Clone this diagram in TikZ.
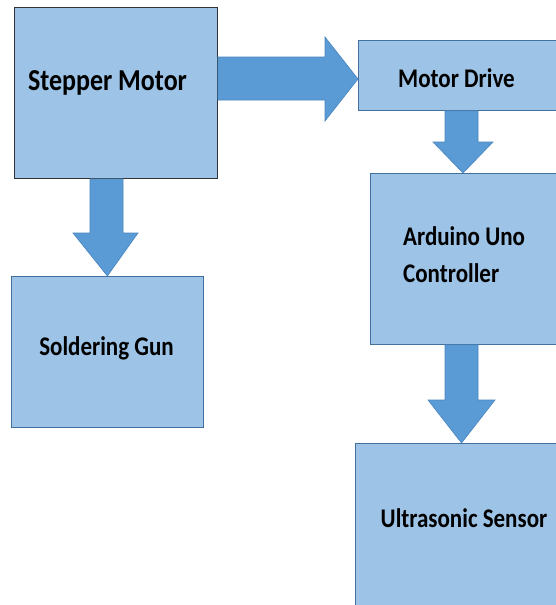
\documentclass[tikz,border=0pt]{standalone}
\usepackage{fontspec}
\setmainfont{Carlito}
\usepackage{graphicx}
\newcommand{\tx}[1]{\scalebox{1}[1.17]{#1}}
\definecolor{boxfill}{HTML}{9DC3E6}
\definecolor{boxline}{HTML}{41719C}
\definecolor{arrfill}{HTML}{5B9BD5}
\definecolor{arrline}{HTML}{4A85C0}
\tikzset{
  blk/.style={rectangle, fill=boxfill, draw=boxline, line width=0.8pt, inner sep=0pt},
  lbl/.style={inner sep=0pt, font=\bfseries\fontsize{23}{37}\selectfont, text=black},
  barrow/.style={fill=arrfill, draw=arrline, line width=0.6pt, line join=miter}
}
\begin{document}
\begin{tikzpicture}[x=1pt,y=1pt]
\clip (0,0) rectangle (556,-605);
\fill[white] (0,0) rectangle (556,-605);
% boxes
\node[blk, draw=black!80, anchor=north west, minimum width=203, minimum height=171] (sm) at (14,-7) {};
\node[blk, anchor=north west, minimum width=212, minimum height=70] (md) at (358,-40) {};
\node[blk, anchor=north west, minimum width=200, minimum height=171] (ard) at (370,-173) {};
\node[blk, anchor=north west, minimum width=192, minimum height=151] (sg) at (11,-276) {};
\node[blk, anchor=north west, minimum width=215, minimum height=175] (us) at (355,-443) {};
% labels
\node[lbl, font=\bfseries\fontsize{26}{30}\selectfont, anchor=base] (tsm) at (107.5,-90) {\tx{Stepper Motor}};
\node[lbl, anchor=base] (tmd) at (456.5,-87) {\tx{Motor Drive}};
\node[lbl, anchor=base west, align=left] (tard) at (403,-282) {\tx{Arduino Uno}\\\tx{Controller}};
\node[lbl, anchor=base] (tsg) at (106.5,-355) {\tx{Soldering Gun}};
\node[lbl, anchor=base] (tus) at (464,-527) {\tx{Ultrasonic Sensor}};
% block arrows
\draw[barrow] (sm.east |- 0,-57) -- (325,-57) -- (325,-37) -- (md.west |- 0,-79)
  -- (325,-121) -- (325,-100) -- (sm.east |- 0,-100) -- cycle;
\draw[barrow] (90,0 |- sm.south) -- (90,-233) -- (73,-233) -- (sg.north)
  -- (138,-233) -- (123,-233) -- (123,0 |- sm.south) -- cycle;
\coordinate (t1) at (463,0 |- ard.north);
\draw[barrow] (445,0 |- md.south) -- (445,-142) -- (433,-142) -- (t1)
  -- (493,-142) -- (478,-142) -- (478,0 |- md.south) -- cycle;
\coordinate (t2) at (461.5,0 |- us.north);
\draw[barrow] (445,0 |- ard.south) -- (445,-400) -- (428,-400) -- (t2)
  -- (495,-400) -- (478,-400) -- (478,0 |- ard.south) -- cycle;
\end{tikzpicture}
\end{document}
